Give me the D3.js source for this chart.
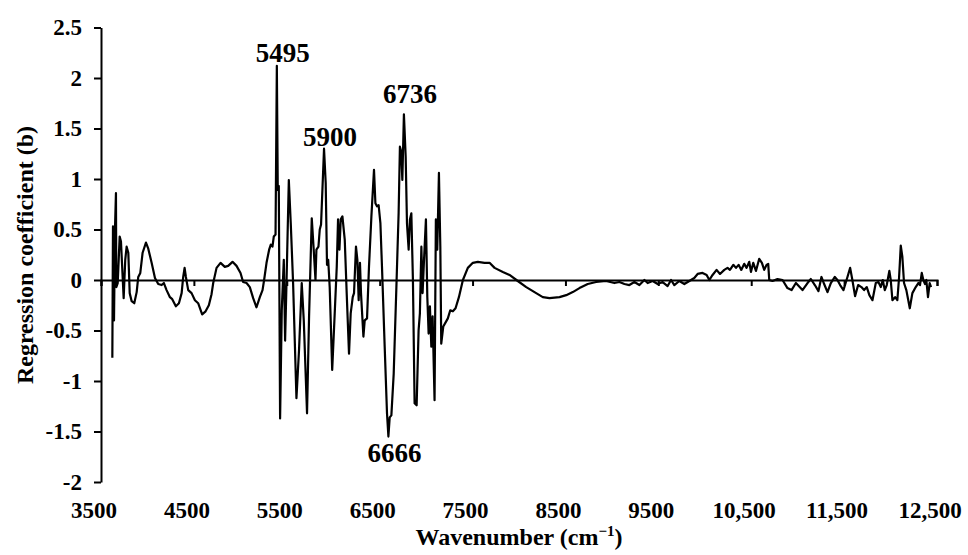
<!DOCTYPE html>
<meta charset="utf-8">
<head>
<title>Regression coefficient spectrum</title>
<script src="https://cdn.jsdelivr.net/npm/d3@7"></script>
<style>
body {
    margin: 0;
    background: #fff;
}

svg text {
    font-family: "Liberation Serif", "Times New Roman", serif;
    font-weight: bold;
    fill: #000;
}

.axis path,
.axis line {
    stroke: #000;
    stroke-width: 2px;
}

.spectrum {
    fill: none;
    stroke: #000;
    stroke-width: 2.2px;
    stroke-linejoin: round;
}
</style>
</head>
<body>
<script>
// Spectrum values
const wavenumbers = [
    3622, 3629, 3640, 3651, 3661, 3665, 3680, 3701, 3715, 3744, 3761, 3776, 3794, 3809, 3830, 3858,
    3884, 3901, 3923, 3948, 3984, 4009, 4045, 4081, 4116, 4153, 4177, 4206, 4242, 4267, 4306, 4339,
    4368, 4385, 4400, 4414, 4439, 4475, 4511, 4546, 4589, 4626, 4661, 4690, 4708, 4744, 4787, 4833,
    4869, 4916, 4959, 5002, 5030, 5067, 5102, 5138, 5174, 5210, 5239, 5256, 5282, 5310, 5328, 5346,
    5360, 5379, 5393, 5403, 5414, 5428, 5446, 5468, 5482, 5497, 5522, 5543, 5568, 5604, 5632, 5661,
    5683, 5718, 5740, 5769, 5790, 5809, 5819, 5841, 5855, 5869, 5901, 5919, 5933, 5946, 5962, 5989,
    6016, 6038, 6052, 6067, 6081, 6099, 6124, 6145, 6170, 6188, 6210, 6224, 6245, 6260, 6274, 6288,
    6299, 6325, 6339, 6364, 6385, 6411, 6439, 6454, 6471, 6489, 6508, 6525, 6554, 6579, 6594, 6608,
    6626, 6651, 6680, 6704, 6718, 6733, 6744, 6761, 6780, 6794, 6812, 6826, 6841, 6858, 6876, 6898,
    6919, 6933, 6949, 6962, 6976, 6998, 7013, 7027, 7041, 7056, 7070, 7091, 7105, 7120, 7138, 7153,
    7163, 7185, 7210, 7234, 7260, 7288, 7317, 7353, 7396, 7449, 7503, 7557, 7629, 7683, 7737, 7826,
    7898, 7987, 8078, 8167, 8256, 8328, 8436, 8508, 8579, 8651, 8740, 8830, 8938, 9027, 9081, 9135,
    9188, 9242, 9296, 9350, 9385, 9439, 9493, 9546, 9600, 9637, 9672, 9726, 9780, 9834, 9887, 9923,
    9976, 10020, 10049, 10084, 10127, 10164, 10210, 10245, 10271, 10307, 10336, 10364, 10393, 10425, 10450, 10479,
    10497, 10522, 10551, 10586, 10615, 10640, 10665, 10683, 10694, 10729, 10783, 10837, 10890, 10934, 10981, 11052,
    11106, 11142, 11185, 11224, 11256, 11285, 11321, 11357, 11400, 11428, 11457, 11493, 11536, 11565, 11589, 11618,
    11651, 11686, 11715, 11744, 11772, 11805, 11841, 11869, 11895, 11916, 11938, 11959, 11987, 12002, 12020, 12049,
    12073, 12092, 12110, 12127, 12145, 12170, 12207, 12235, 12271, 12299, 12317, 12336, 12353, 12371, 12385, 12403,
    12421, 12436
];

const coefficients = [
    -0.77, 0.53, -0.40, 0.52, 0.86, -0.07, -0.03, 0.43, 0.38, -0.18, 0.20, 0.33, 0.27, -0.13, -0.21, -0.23,
    -0.12, 0.03, 0.07, 0.27, 0.37, 0.31, 0.17, 0.02, -0.04, -0.05, -0.03, -0.10, -0.17, -0.19, -0.26, -0.23,
    -0.13, 0.03, 0.12, 0.03, -0.10, -0.13, -0.20, -0.23, -0.34, -0.31, -0.25, -0.14, -0.03, 0.12, 0.17, 0.13,
    0.14, 0.18, 0.14, 0.07, -0.02, -0.03, -0.07, -0.18, -0.27, -0.17, -0.10, 0.00, 0.17, 0.30, 0.35, 0.33,
    0.43, 0.45, 2.12, 0.89, 0.93, -1.37, -0.30, 0.20, -0.60, -0.03, 0.99, 0.56, -0.03, -1.17, -0.69, -0.03,
    -0.40, -1.32, -0.36, 0.61, 0.30, 0.00, 0.30, 0.33, 0.50, 0.55, 1.30, 0.96, 0.15, 0.20, -0.07, -0.89,
    -0.33, 0.13, 0.60, 0.30, 0.60, 0.63, 0.40, -0.13, -0.73, -0.33, -0.17, -0.13, 0.33, 0.20, -0.20, 0.17,
    -0.13, -0.56, -0.40, -0.38, 0.13, 0.63, 1.09, 0.76, 0.73, 0.74, 0.56, 0.13, -0.66, -1.32, -1.55, -1.36,
    -1.34, -0.93, -0.07, 0.66, 1.32, 1.27, 0.99, 1.64, 1.22, 0.56, 0.30, 0.60, 0.66, 0.00, -1.22, -1.24,
    -0.50, -0.33, 0.33, -0.13, 0.17, 0.60, -0.17, -0.53, -0.26, -0.66, -0.36, -1.19, 0.60, 0.30, 1.06, 0.33,
    -0.63, -0.46, -0.42, -0.38, -0.30, -0.31, -0.28, -0.17, 0.00, 0.12, 0.17, 0.18, 0.17, 0.17, 0.12, 0.08,
    0.05, -0.01, -0.07, -0.12, -0.17, -0.18, -0.17, -0.15, -0.12, -0.08, -0.04, -0.02, -0.01, -0.03, -0.02, -0.04,
    -0.05, -0.02, -0.05, 0.00, -0.03, -0.01, -0.04, -0.02, -0.06, 0.00, -0.05, -0.01, -0.04, -0.01, 0.02, 0.06,
    0.07, 0.05, 0.00, 0.05, 0.10, 0.06, 0.10, 0.12, 0.10, 0.15, 0.12, 0.15, 0.10, 0.16, 0.12, 0.18,
    0.08, 0.17, 0.09, 0.21, 0.17, 0.10, 0.15, 0.16, 0.00, -0.01, 0.01, 0.00, -0.08, -0.10, -0.03, -0.10,
    -0.03, 0.01, -0.05, -0.11, 0.03, -0.04, -0.12, -0.03, 0.03, 0.00, -0.05, -0.10, 0.03, 0.12, 0.00, -0.16,
    -0.05, -0.07, -0.10, -0.07, -0.15, -0.20, -0.03, -0.02, -0.07, 0.00, -0.10, -0.05, 0.09, 0.00, -0.20, -0.17,
    -0.20, 0.03, 0.34, 0.23, -0.03, -0.10, -0.28, -0.13, -0.07, -0.03, -0.05, 0.07, 0.00, -0.04, 0.00, -0.17,
    -0.03, -0.07
];

// Axis ticks
const xTicks = [3500, 4500, 5500, 6500, 7500, 8500, 9500, 10500, 11500, 12500];
const yTicks = [-2, -1.5, -1, -0.5, 0, 0.5, 1, 1.5, 2, 2.5];

// Peak annotations
const peakLabels = ["5495", "5900", "6736", "6666"];
const peakWavenumbers = [5393, 5901, 6761, 6594];
const peakValues = [2.12, 1.30, 1.64, -1.55];

const width = 968;
const height = 555;

const svg = d3.select("body")
    .append("svg")
    .attr("width", width)
    .attr("height", height);

const x = d3.scaleLinear()
    .domain([3500, 12500])
    .range([101, 937]);

const y = d3.scaleLinear()
    .domain([-2, 2.5])
    .range([482, 27.5]);

// Y axis on the left
svg.append("g")
    .attr("class", "axis")
    .attr("transform", "translate(101,0)")
    .call(d3.axisLeft(y)
        .tickValues(yTicks)
        .tickSize(7)
        .tickSizeOuter(0)
        .tickPadding(12)
        .tickFormat(d => String(d)))
    .selectAll("text")
    .style("font-size", "23px");

// Zero line with small ticks (no labels)
svg.append("g")
    .attr("class", "axis")
    .attr("transform", `translate(0,${y(0)})`)
    .call(d3.axisBottom(x)
        .tickValues(xTicks)
        .tickSize(6)
        .tickSizeOuter(6)
        .tickFormat(""));

// Tick labels sit at the bottom of the plot
const fmt = d3.format(",");
svg.append("g")
    .selectAll("text")
    .data(xTicks)
    .join("text")
    .attr("x", d => x(d) - 7)
    .attr("y", 518)
    .attr("text-anchor", "middle")
    .style("font-size", "23px")
    .text(d => d >= 10000 ? fmt(d) : d);

// Spectrum line
const points = wavenumbers.map((w, i) => [w, coefficients[i]]);
const line = d3.line()
    .x(d => x(d[0]))
    .y(d => y(d[1]));

svg.append("path")
    .datum(points)
    .attr("class", "spectrum")
    .attr("d", line);

// Peak labels
const labelGap = [4, 3, 11, -25.5];
svg.append("g")
    .selectAll("text")
    .data(peakLabels)
    .join("text")
    .attr("x", (d, i) => x(peakWavenumbers[i]) + 6)
    .attr("y", (d, i) => y(peakValues[i]) - labelGap[i])
    .attr("text-anchor", "middle")
    .style("font-size", "27px")
    .text(d => d);

// Axis titles
svg.append("text")
    .attr("transform", "translate(33,255) rotate(-90)")
    .attr("text-anchor", "middle")
    .style("font-size", "24px")
    .text("Regression coefficient (b)");

const xTitle = svg.append("text")
    .attr("x", 519)
    .attr("y", 545)
    .attr("text-anchor", "middle")
    .style("font-size", "24px");
xTitle.append("tspan").text("Wavenumber (cm");
xTitle.append("tspan").attr("dy", -9).style("font-size", "15px").text("\u22121");
xTitle.append("tspan").attr("dy", 9).text(")");
</script>
</body>
</html>
